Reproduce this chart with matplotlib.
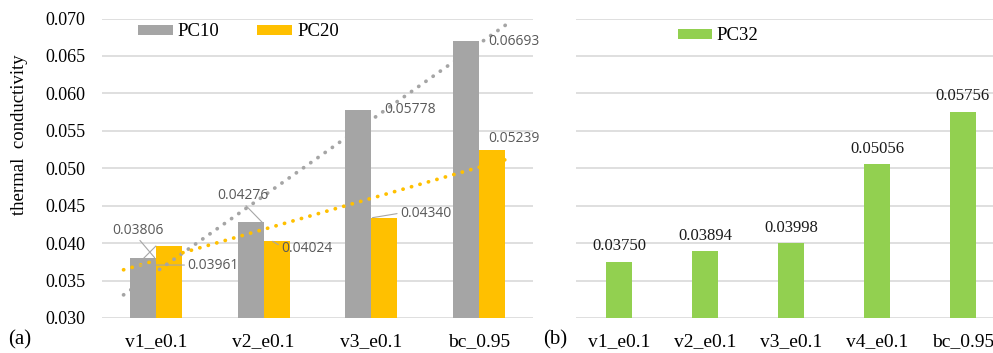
import numpy as np
import matplotlib
matplotlib.use("Agg")
import matplotlib.pyplot as plt

# ---- data ----
cats_a = ["v1_e0.1", "v2_e0.1", "v3_e0.1", "bc_0.95"]
pc10 = [0.03806, 0.04276, 0.05778, 0.06693]
pc20 = [0.03961, 0.04024, 0.04340, 0.05239]

cats_b = ["v1_e0.1", "v2_e0.1", "v3_e0.1", "v4_e0.1", "bc_0.95"]
pc32 = [0.03750, 0.03894, 0.03998, 0.05056, 0.05756]

yticks = [0.030, 0.035, 0.040, 0.045, 0.050, 0.055, 0.060, 0.065, 0.070]

# ---- styles ----
C10, C20, C32 = "#A5A5A5", "#FFC000", "#92D050"
GRID = "#D9D9D9"
LABEL_GREY = "#595959"
LEADER = "#A6A6A6"
SERIF = ["Liberation Serif", "DejaVu Serif"]
SANS = ["Open Sans", "DejaVu Sans"]

W, H = 993, 353
fig = plt.figure(figsize=(W / 100, H / 100), dpi=100)

bottom = 1 - 318 / H
height = (318 - 18.5) / H
ax1 = fig.add_axes([102 / W, bottom, 431 / W, height])
ax2 = fig.add_axes([576 / W, bottom, 430 / W, height])


def style_axes(ax, ncat, labels, show_y):
    ax.set_xlim(-0.5, ncat - 0.5)
    ax.set_ylim(yticks[0], yticks[-1])
    ax.set_yticks(yticks)
    ax.yaxis.grid(True, color=GRID, lw=1.2)
    ax.set_axisbelow(True)
    for s in ax.spines.values():
        s.set_visible(False)
    ax.set_xticks(range(ncat))
    ax.set_xticklabels(labels, fontfamily=SERIF, fontsize=14)
    ax.tick_params(axis="x", length=0, pad=11)
    ax.tick_params(axis="y", length=0, pad=12)
    if show_y:
        ax.set_yticklabels([f"{v:.3f}" for v in yticks], fontfamily=SERIF, fontsize=13)
    else:
        ax.set_yticklabels([])


style_axes(ax1, len(cats_a), cats_a, True)
style_axes(ax2, len(cats_b), cats_b, False)

# ---- panel (a): grouped bars ----
bw = 0.242
xa = np.arange(len(cats_a))
b10 = ax1.bar(xa - bw / 2, pc10, bw, color=C10, label="PC10", zorder=2)
b20 = ax1.bar(xa + bw / 2, pc20, bw, color=C20, label="PC20", zorder=2)

# linear trendlines
xt = np.linspace(-0.3, 3.27, 200)
for vals, col in ((pc10, C10), (pc20, C20)):
    k, b = np.polyfit(xa, vals, 1)
    ax1.plot(xt, k * xt + b, color=col, lw=2.7, linestyle=(0, (0.05, 2.3)),
             dash_capstyle="round", solid_capstyle="round", zorder=3)

PX = 0.72  # points per pixel


def lab(ax, x, y, text, dx, dy, arrow=None, **kw):
    ap = None
    if arrow is not None:
        ap = dict(arrowstyle="-", color=LEADER, lw=0.8, shrinkA=0, shrinkB=0, **arrow)
    ax.annotate(text, xy=(x, y), xytext=(dx * PX, -dy * PX), textcoords="offset points",
                ha="center", va="center", fontsize=10, color=LABEL_GREY,
                fontfamily=SANS, arrowprops=ap, zorder=5, **kw)


# PC10 labels
lab(ax1, xa[0] - bw / 2 + bw * 0.45, pc10[0], "0.03806", -17, -27.5,
    arrow=dict(relpos=(0.5, 0.0)))
lab(ax1, xa[1] - bw / 2 + bw * 0.45, pc10[1], "0.04276", -19, -27,
    arrow=dict(relpos=(0.5, 0.0)))
lab(ax1, xa[2] - bw / 2, pc10[2], "0.05778", 51.5, 0)
lab(ax1, xa[3] - bw / 2, pc10[3], "0.06693", 48, 0)

# PC20 labels
lab(ax1, xa[0], pc20[0], "0.03961", 57, 19,
    arrow=dict(relpos=(0.0, 0.5), connectionstyle="angle,angleA=0,angleB=45,rad=0"))
lab(ax1, xa[1] + bw * 0.35, pc20[1], "0.04024", 34, 7,
    arrow=dict(relpos=(0.0, 0.5), connectionstyle="angle,angleA=0,angleB=-31,rad=0"))
lab(ax1, xa[2] + 0.01, pc20[2], "0.04340", 53, -4.5,
    arrow=dict(relpos=(0.0, 0.5)))
lab(ax1, xa[3] + bw / 2, pc20[3], "0.05239", 22, -12)

ax1.legend(loc="center left", bbox_to_anchor=((138 - 102) / 431, (318 - 32) / 299.5),
           ncol=2, frameon=False, borderpad=0, borderaxespad=0,
           handlelength=1.85, handleheight=0.48, handletextpad=0.28,
           columnspacing=2.0, prop=dict(family=SERIF, size=13.5))

# ---- panel (b): single series ----
xb = np.arange(len(cats_b))
ax2.bar(xb, pc32, 0.30, color=C32, label="PC32", zorder=2)
for x, v in zip(xb, pc32):
    ax2.annotate(f"{v:.5f}", xy=(x, v), xytext=(0, 15.5 * PX), textcoords="offset points",
                 ha="center", va="center", fontsize=12, fontfamily=SERIF, color="#1a1a1a")

ax2.legend(loc="center left", bbox_to_anchor=((678 - 576) / 430, (318 - 36) / 299.5),
           frameon=False, borderpad=0, borderaxespad=0,
           handlelength=1.8, handleheight=0.5, handletextpad=0.25,
           prop=dict(family=SERIF, size=13.5))

# ---- annotations outside the axes ----
fig.text(20 / W, 1 - 135 / H, "thermal  conductivity", rotation=90, ha="center", va="center",
         fontfamily=SERIF, fontsize=13.5)
fig.text(20 / W, 1 - 340 / H, "(a)", ha="center", va="center", fontfamily=SERIF, fontsize=15)
fig.text(555 / W, 1 - 340 / H, "(b)", ha="center", va="center", fontfamily=SERIF, fontsize=15)

fig.savefig("out.png", dpi=100)
